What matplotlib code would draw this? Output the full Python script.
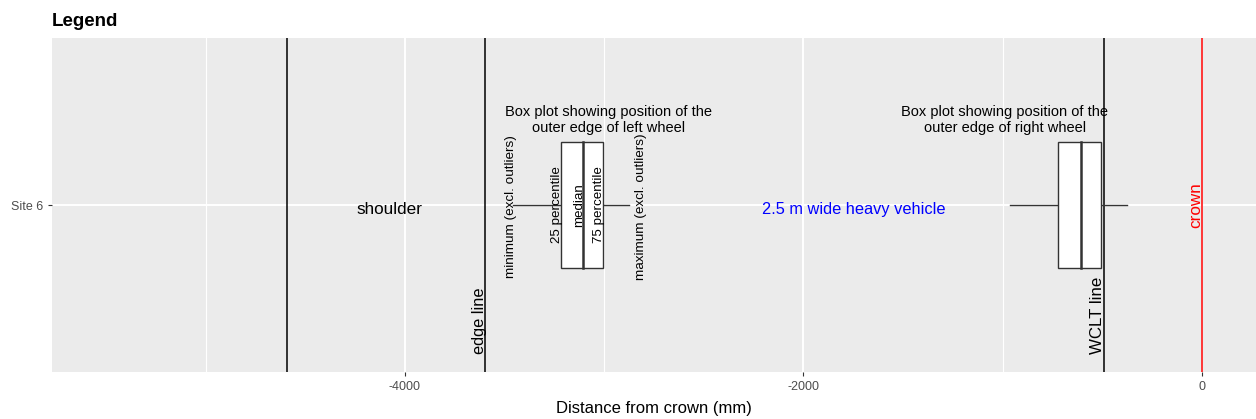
import matplotlib
matplotlib.use("Agg")
import matplotlib.pyplot as plt

plt.rcParams['font.family'] = ['Liberation Sans', 'DejaVu Sans']

# Data (mm from crown)
site = "Site 6"
x_limits = [-5771, 271]
major_ticks = [-4000, -2000, 0]
minor_ticks = [-5000, -3000, -1000]
shoulder_x = -4592
edge_line_x = -3600
wclt_line_x = -492
crown_x = 0
# box stats: min, q1, median, q3, max
left_wheel = [-3458, -3217, -3107, -3006, -2876]
right_wheel = [-964, -723, -607, -507, -376]

fig = plt.figure(figsize=(12.56, 4.19), dpi=100)
ax = fig.add_axes([52/1256, 1-372/419, 1-52/1256, (372-38)/419])
ax.set_facecolor('#EBEBEB')
ax.set_xlim(*x_limits)
ax.set_ylim(0.4, 1.6)
for s in ax.spines.values():
    s.set_visible(False)

for m in minor_ticks:
    ax.axvline(m, color='white', lw=0.8, zorder=0)
for m in major_ticks:
    ax.axvline(m, color='white', lw=1.4, zorder=0)
ax.axhline(1, color='white', lw=1.4, zorder=0)

ax.set_xticks(major_ticks)
ax.set_xticklabels([str(t) for t in major_ticks])
ax.set_yticks([1])
ax.set_yticklabels([site])
ax.tick_params(axis='both', colors='#333333', labelcolor='#4D4D4D', labelsize=9,
               length=3, width=0.8)

# vertical reference lines
for xv in [shoulder_x, edge_line_x, wclt_line_x]:
    ax.axvline(xv, color='black', lw=1.1, zorder=2)
ax.axvline(crown_x, color='red', lw=1.1, zorder=2)

def draw_box(stats, y=1.0, h=0.453):
    mn, q1, med, q3, mx = stats
    ax.plot([mn, q1], [y, y], color='#333333', lw=1.0, zorder=3)
    ax.plot([q3, mx], [y, y], color='#333333', lw=1.0, zorder=3)
    rect = plt.Rectangle((q1, y - h/2), q3 - q1, h, facecolor='white',
                         edgecolor='#333333', lw=1.0, zorder=3)
    ax.add_patch(rect)
    ax.plot([med, med], [y - h/2, y + h/2], color='#333333', lw=1.8, zorder=4)

draw_box(left_wheel)
draw_box(right_wheel)

# annotations
ax.text(-4075, 0.985, "shoulder", ha='center', va='center', fontsize=12.3)
ax.text(-3625, 0.465, "edge line", ha='center', va='bottom', rotation=90, fontsize=11.8)
ax.text(-3470, 0.995, "minimum (excl. outliers)", ha='center', va='center', rotation=90, fontsize=9.7)
ax.text(-3235, 1.0, "25 percentile", ha='center', va='center', rotation=90, fontsize=9.6)
ax.text(-3127, 1.0, "median", ha='center', va='center', rotation=90, fontsize=9.6)
ax.text(-3025, 1.0, "75 percentile", ha='center', va='center', rotation=90, fontsize=9.6)
ax.text(-2815, 0.995, "maximum (excl. outliers)", ha='center', va='center', rotation=90, fontsize=9.7)
ax.text(-2980, 1.305, "Box plot showing position of the\nouter edge of left wheel",
        ha='center', va='center', fontsize=10.5, linespacing=1.25)
ax.text(-1750, 0.985, "2.5 m wide heavy vehicle", ha='center', va='center',
        fontsize=11.8, color='blue')
ax.text(-990, 1.305, "Box plot showing position of the\nouter edge of right wheel",
        ha='center', va='center', fontsize=10.5, linespacing=1.25)
ax.text(-525, 0.465, "WCLT line", ha='center', va='bottom', rotation=90, fontsize=12.2)
ax.text(-32, 1.0, "crown", ha='center', va='center', rotation=90, fontsize=12.3, color='red')

ax.set_xlabel("Distance from crown (mm)", fontsize=12, labelpad=6)
fig.text(52/1256, 1-21/419, "Legend", fontsize=13.5, fontweight='bold', ha='left', va='center')

fig.savefig("out.png", dpi=100)
